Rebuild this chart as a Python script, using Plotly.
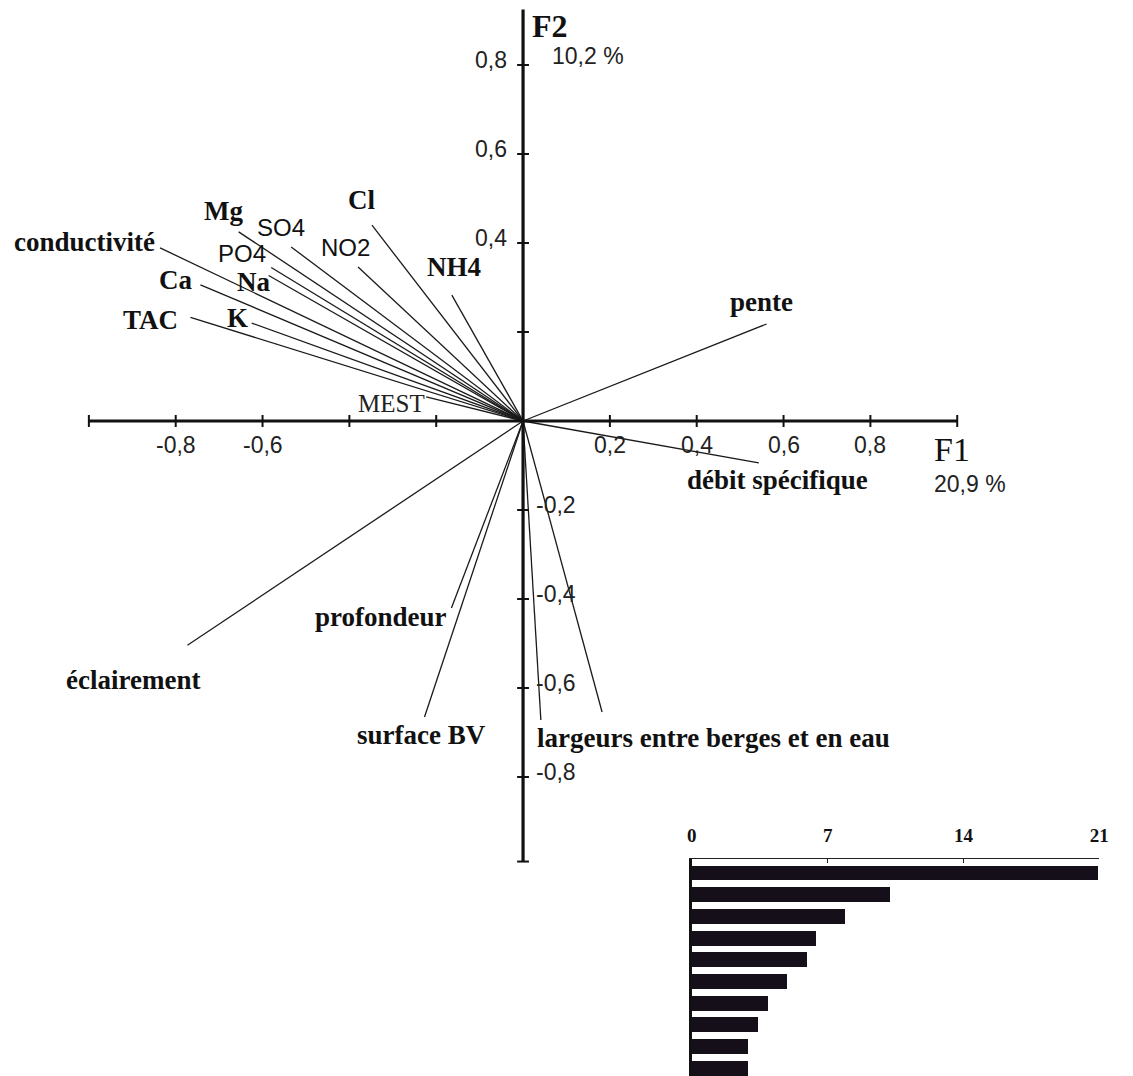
import plotly.graph_objects as go

# ---------------- data ----------------
variables = ["conductivité", "Mg", "SO4", "PO4", "Na", "Ca", "TAC", "K", "Cl", "NO2", "NH4", "MEST",
             "pente", "débit spécifique", "éclairement", "profondeur", "surface BV",
             "largeur entre berges", "largeur en eau"]
f1 = [-0.836, -0.655, -0.534, -0.580, -0.586, -0.743, -0.766, -0.625, -0.348, -0.380, -0.164, -0.223,
      0.561, 0.543, -0.773, -0.165, -0.227, 0.041, 0.182]
f2 = [0.389, 0.425, 0.391, 0.345, 0.327, 0.306, 0.233, 0.220, 0.440, 0.346, 0.283, 0.054,
      0.218, -0.094, -0.504, -0.420, -0.665, -0.672, -0.654]

x_ticks = [-1.0, -0.8, -0.6, -0.4, -0.2, 0.2, 0.4, 0.6, 0.8, 1.0]
x_tick_labels = {-0.8: "-0,8", -0.6: "-0,6", 0.2: "0,2", 0.4: "0,4", 0.6: "0,6", 0.8: "0,8"}
y_ticks = [0.8, 0.6, 0.4, 0.2, -0.2, -0.4, -0.6, -0.8, -0.99]
y_tick_labels = {0.8: "0,8", 0.6: "0,6", 0.4: "0,4", -0.2: "-0,2", -0.4: "-0,4", -0.6: "-0,6", -0.8: "-0,8"}

axis1_name, axis1_pct = "F1", "20,9 %"
axis2_name, axis2_pct = "F2", "10,2 %"

eig_rank = [1, 2, 3, 4, 5, 6, 7, 8, 9, 10]
eig_values = [20.9, 10.2, 7.9, 6.4, 5.9, 4.9, 3.9, 3.4, 2.9, 2.9]
eig_ticks = [0, 7, 14, 21]

# ---------------- layout geometry ----------------
W, H = 1133, 1076
OX, OY = 525, 421          # pixel position of the origin
SX, SY = 440, 445          # pixels per unit
x_range = [(0 - OX) / SX, (W - OX) / SX]
y_range = [(OY - H) / SY, OY / SY]
dx_px = 1.0 / SX
dy_px = 1.0 / SY

BOLD_SERIF = "Liberation Serif"
SANS = "Liberation Sans"
INK = "#111111"

fig = go.Figure()

# variable vectors
for name, a, b in zip(variables, f1, f2):
    fig.add_trace(go.Scatter(x=[0, a], y=[0, b], mode="lines", name=name,
                             line=dict(color="#1a1a1a", width=1.3), hoverinfo="name",
                             showlegend=False))

# main axes
fig.add_trace(go.Scatter(x=[x_ticks[0], x_ticks[-1]], y=[0, 0], mode="lines",
                         line=dict(color="#111111", width=3.2), showlegend=False, hoverinfo="skip"))
fig.add_trace(go.Scatter(x=[0, 0], y=[min(y_ticks), 0.925], mode="lines",
                         line=dict(color="#111111", width=3.2), showlegend=False, hoverinfo="skip"))

# tick marks
tx, ty = [], []
for t in x_ticks:
    tx += [t, t, None]
    ty += [-6 * dy_px, 6 * dy_px, None]
for t in y_ticks:
    tx += [-6 * dx_px, 6 * dx_px, None]
    ty += [t, t, None]
fig.add_trace(go.Scatter(x=tx, y=ty, mode="lines", line=dict(color="#111111", width=2),
                         showlegend=False, hoverinfo="skip"))

ann = []
tickfont = dict(family=SANS, size=23, color="#222222")
for t, lab in x_tick_labels.items():
    ann.append(dict(x=t, y=0, xref="x", yref="y", text=lab, showarrow=False,
                    xanchor="center", yanchor="middle", yshift=-24, font=tickfont))
for t, lab in y_tick_labels.items():
    if t > 0:
        ann.append(dict(x=0, y=t, xref="x", yref="y", text=lab, showarrow=False,
                        xanchor="right", yanchor="middle", xshift=-14, yshift=5, font=tickfont))
    else:
        ann.append(dict(x=0, y=t, xref="x", yref="y", text=lab, showarrow=False,
                        xanchor="left", yanchor="middle", xshift=11, yshift=5, font=tickfont))

# axis names
ann.append(dict(x=0, y=0.925, xref="x", yref="y", text="<b>" + axis2_name + "</b>", showarrow=False,
                xanchor="left", yanchor="top", xshift=7, yshift=3,
                font=dict(family=BOLD_SERIF, size=32, color=INK)))
ann.append(dict(x=0.061, y=0.820, xref="x", yref="y", text=axis2_pct, showarrow=False,
                xanchor="left", yanchor="middle", font=tickfont))
ann.append(dict(x=0.941, y=-0.063, xref="x", yref="y", text=axis1_name, showarrow=False,
                xanchor="left", yanchor="middle", font=dict(family=BOLD_SERIF, size=34, color=INK)))
ann.append(dict(x=0.941, y=-0.142, xref="x", yref="y", text=axis1_pct, showarrow=False,
                xanchor="left", yanchor="middle", font=tickfont))

# variable labels (text, x, y, style)
labels = [
    ("conductivité", -1.009, 0.402, "b"),
    ("Mg", -0.691, 0.472, "b"),
    ("SO4", -0.557, 0.434, "s"),
    ("PO4", -0.648, 0.376, "s"),
    ("NO2", -0.409, 0.389, "s"),
    ("Cl", -0.373, 0.497, "b"),
    ("NH4", -0.159, 0.346, "b"),
    ("Na", -0.620, 0.312, "b"),
    ("Ca", -0.800, 0.317, "b"),
    ("TAC", -0.859, 0.227, "b"),
    ("K", -0.657, 0.231, "b"),
    ("MEST", -0.302, 0.040, "r"),
    ("pente", 0.550, 0.267, "b"),
    ("débit spécifique", 0.586, -0.133, "b"),
    ("éclairement", -0.898, -0.582, "b"),
    ("profondeur", -0.327, -0.440, "b"),
    ("surface BV", -0.234, -0.706, "b"),
    ("largeurs entre berges et en eau", 0.439, -0.712, "b"),
]
for text, lx, ly, st in labels:
    if st == "b":
        font = dict(family=BOLD_SERIF, size=27, color=INK)
        txt = "<b>" + text + "</b>"
    elif st == "s":
        font = dict(family=SANS, size=24, color=INK)
        txt = text
    else:
        font = dict(family=BOLD_SERIF, size=25, color="#222222")
        txt = text
    ann.append(dict(x=lx, y=ly, xref="x", yref="y", text=txt, showarrow=False,
                    xanchor="center", yanchor="middle", font=font))

# eigenvalue inset
fig.add_trace(go.Bar(x=eig_values, y=eig_rank, orientation="h", xaxis="x2", yaxis="y2",
                     width=0.69, marker=dict(color="#150f1a", line=dict(width=0)),
                     showlegend=False, hoverinfo="x"))

top_px = 859
fig.update_layout(
    width=W, height=H,
    margin=dict(l=0, r=0, t=0, b=0),
    paper_bgcolor="white", plot_bgcolor="rgba(0,0,0,0)",
    xaxis=dict(range=x_range, domain=[0, 1], visible=False, fixedrange=True),
    yaxis=dict(range=y_range, domain=[0, 1], visible=False, fixedrange=True),
    xaxis2=dict(range=[0, 21], domain=[696 / W, 1109 / W], anchor="y2", side="top",
                showline=True, linecolor="#222222", linewidth=1, showgrid=False, zeroline=False,
                tickvals=eig_ticks, ticktext=["<b>%d</b>" % v for v in eig_ticks],
                ticks="inside", ticklen=4, tickcolor="#222222", ticklabelstandoff=8,
                tickfont=dict(family=BOLD_SERIF, size=19, color=INK), fixedrange=True),
    yaxis2=dict(range=[eig_rank[0] - 14 / 21.7 + (H - top_px) / 21.7, eig_rank[0] - 14 / 21.7],
                domain=[0, (H - top_px) / H], anchor="x2", showline=True, linecolor="#111111",
                linewidth=2.5, showgrid=False, zeroline=False, showticklabels=False, ticks="",
                fixedrange=True),
    annotations=ann,
    bargap=0,
)

fig.write_html("out.html", config={"displayModeBar": False},
               post_script="document.body.style.margin='0';document.body.style.overflow='hidden';")
